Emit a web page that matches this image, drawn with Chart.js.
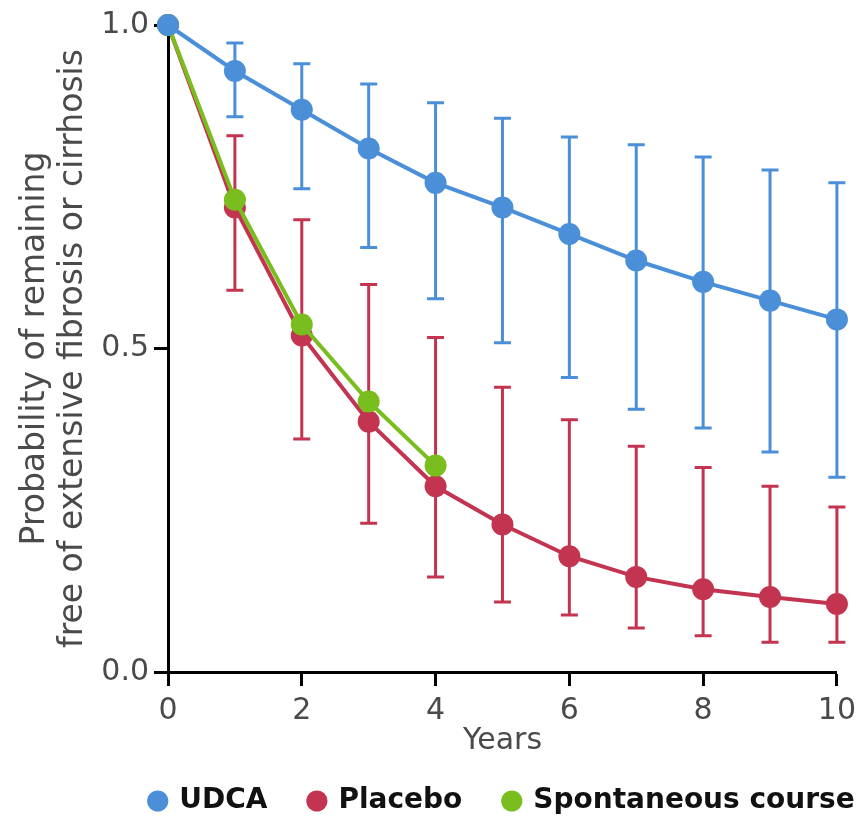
<!DOCTYPE html>
<html>
<head>
<meta charset="utf-8">
<title>Fibrosis-free probability</title>
<script src="https://cdn.jsdelivr.net/npm/chart.js@4.4.0/dist/chart.umd.min.js"></script>
<style>
  html, body { margin: 0; padding: 0; background: #fff; }
</style>
</head>
<body>
<canvas id="chart" width="863" height="825"></canvas>
<script>
// Data
const years = [0, 1, 2, 3, 4, 5, 6, 7, 8, 9, 10];
const udca = [1.0, 0.929, 0.869, 0.809, 0.756, 0.718, 0.677, 0.636, 0.603, 0.574, 0.545];
const udcaHigh = [null, 0.972, 0.940, 0.909, 0.880, 0.856, 0.827, 0.815, 0.796, 0.776, 0.756];
const udcaLow = [null, 0.858, 0.747, 0.656, 0.577, 0.509, 0.455, 0.406, 0.377, 0.340, 0.301];
const placebo = [1.0, 0.718, 0.520, 0.387, 0.287, 0.228, 0.179, 0.147, 0.128, 0.116, 0.105];
const placeboHigh = [null, 0.829, 0.699, 0.599, 0.517, 0.440, 0.390, 0.349, 0.316, 0.287, 0.255];
const placeboLow = [null, 0.590, 0.360, 0.230, 0.147, 0.108, 0.088, 0.068, 0.056, 0.046, 0.046];
const spontYears = [0, 1, 2, 3, 4];
const spontaneous = [1.0, 0.730, 0.537, 0.418, 0.319];

const BLUE = '#4a8fd8';
const RED = '#c2344f';
const GREEN = '#79be1e';
const TEXT = '#4a4a4a';

function points(xs, ys) {
    return xs.map((x, i) => ({ x: x, y: ys[i] }));
}

// Error bars drawn under the lines and markers
const errorBars = {
    id: 'errorBars',
    beforeDatasetsDraw(chart) {
        const ctx = chart.ctx;
        const xs = chart.scales.x;
        const ys = chart.scales.y;
        chart.data.datasets.forEach((ds, i) => {
            if (!ds.errLow || chart.getDatasetMeta(i).hidden) return;
            ctx.save();
            ctx.strokeStyle = ds.borderColor;
            ctx.lineWidth = 3;
            ds.data.forEach((p, j) => {
                if (ds.errLow[j] == null) return;
                const x = xs.getPixelForValue(p.x);
                const yTop = ys.getPixelForValue(ds.errHigh[j]);
                const yBot = ys.getPixelForValue(ds.errLow[j]);
                ctx.beginPath();
                ctx.moveTo(x, yTop);
                ctx.lineTo(x, yBot);
                ctx.moveTo(x - 8.5, yTop);
                ctx.lineTo(x + 8.5, yTop);
                ctx.moveTo(x - 8.5, yBot);
                ctx.lineTo(x + 8.5, yBot);
                ctx.stroke();
            });
            ctx.restore();
        });
    }
};

// Center the legend under the plot area
const legendUnderPlot = {
    id: 'legendUnderPlot',
    afterLayout(chart) {
        const lg = chart.legend;
        if (!lg) return;
        const dx = (chart.chartArea.left + chart.chartArea.right) / 2 - (lg.left + lg.right) / 2;
        lg.left += dx;
        lg.right += dx;
    }
};

function series(label, xs, ys, color, order, low, high) {
    return {
        label: label,
        data: points(xs, ys),
        borderColor: color,
        backgroundColor: color,
        pointBackgroundColor: color,
        pointBorderWidth: 0,
        pointRadius: 11,
        pointHoverRadius: 11,
        borderWidth: 4,
        tension: 0,
        clip: false,
        order: order,
        errLow: low,
        errHigh: high
    };
}

new Chart(document.getElementById('chart'), {
    type: 'line',
    data: {
        datasets: [
            series('UDCA', years, udca, BLUE, 0, udcaLow, udcaHigh),
            series('Placebo', years, placebo, RED, 2, placeboLow, placeboHigh),
            series('Spontaneous course', spontYears, spontaneous, GREEN, 1)
        ]
    },
    options: {
        responsive: false,
        animation: false,
        devicePixelRatio: 1,
        layout: { padding: { top: 25, right: 23, bottom: 0, left: 0 } },
        plugins: {
            tooltip: { enabled: false },
            legend: {
                position: 'bottom',
                labels: {
                    usePointStyle: true,
                    pointStyle: 'circle',
                    boxWidth: 15,
                    boxHeight: 15,
                    padding: 42,
                    color: '#111',
                    font: { family: 'DejaVu Sans', size: 28, weight: 'bold' },
                    sort: (a, b) => a.datasetIndex - b.datasetIndex
                }
            }
        },
        scales: {
            x: {
                type: 'linear',
                min: 0,
                max: 10,
                afterFit: s => { s.height = 73; },
                border: { display: true, color: '#000', width: 3 },
                grid: { drawOnChartArea: false, drawTicks: true, tickLength: 14, tickColor: '#000', tickWidth: 3 },
                ticks: {
                    stepSize: 2,
                    padding: 7,
                    color: TEXT,
                    font: { family: 'DejaVu Sans', size: 30 }
                },
                title: {
                    display: true,
                    text: 'Years',
                    color: TEXT,
                    padding: { top: 0, bottom: -14 },
                    font: { family: 'DejaVu Sans', size: 30 }
                }
            },
            y: {
                min: 0,
                max: 1,
                afterFit: s => { s.width = 168; },
                border: { display: true, color: '#000', width: 3 },
                grid: { drawOnChartArea: false, drawTicks: true, tickLength: 14, tickColor: '#000', tickWidth: 3 },
                ticks: {
                    stepSize: 0.5,
                    padding: 5,
                    color: TEXT,
                    font: { family: 'DejaVu Sans', size: 30 },
                    callback: v => v.toFixed(1)
                },
                title: {
                    display: true,
                    text: ['Probability of remaining', 'free of extensive fibrosis or cirrhosis'],
                    color: TEXT,
                    padding: { top: 16, bottom: 0 },
                    font: { family: 'DejaVu Sans', size: 33, lineHeight: 1.15 }
                }
            }
        }
    },
    plugins: [errorBars, legendUnderPlot]
});
</script>
</body>
</html>
